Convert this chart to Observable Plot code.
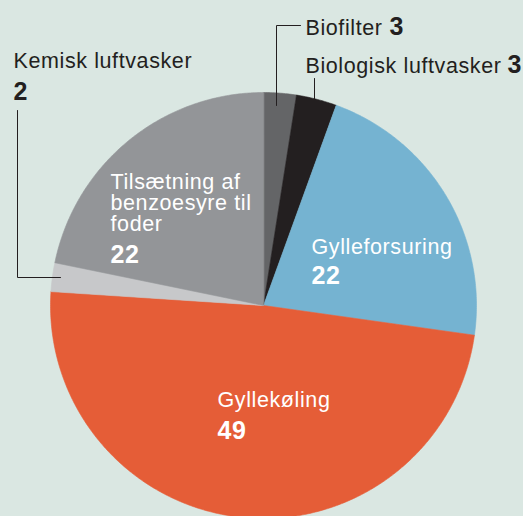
<!DOCTYPE html>
<html>
<head>
<meta charset="utf-8">
<script src="https://cdn.jsdelivr.net/npm/d3@7"></script>
<script src="https://cdn.jsdelivr.net/npm/@observablehq/plot@0.6"></script>
<style>
  html, body { margin: 0; padding: 0; background: #dae7e2; overflow: hidden; }
  #chart svg { display: block; font-family: "Liberation Sans", Arial, sans-serif; letter-spacing: 0.6px; }
</style>
</head>
<body>
<div id="chart"></div>
<script>
// ---- data ----
const categories = ["Biofilter", "Biologisk luftvasker", "Gylleforsuring", "Gyllekøling", "Kemisk luftvasker", "Tilsætning af benzoesyre til foder"];
// slice sizes (labels show rounded values)
const values = [2.5, 3.1, 21.9, 49.3, 2.2, 22.0];
const valueLabels = ["3", "3", "22", "49", "2", "22"];
const colors = ["#646567", "#231f20", "#75b3d1", "#e55d37", "#c7c8ca", "#939598"];
const nameLines = [["Biofilter"], ["Biologisk luftvasker"], ["Gylleforsuring"], ["Gyllekøling"], ["Kemisk luftvasker"], ["Tilsætning af", "benzoesyre til", "foder"]];

// ---- layout ----
const W = 523, H = 516;
const cx = 263, cy = 305, R = 213;
const lineStep = 21;
// label anchors: baseline of last name line, baseline of value; inside = white text
const labelLayout = [
  {name: [305, 34], value: [389, 34], inside: false},
  {name: [305, 72], value: [507, 72], inside: false},
  {name: [311, 253], value: [311, 283], inside: true},
  {name: [217, 406], value: [217, 438], inside: true},
  {name: [13, 67], value: [13, 99], inside: false},
  {name: [110, 230], value: [110, 262], inside: true}
];
const leaders = [
  {k: 0, pts: [[300, 25], [276, 25], [276, 105]]},
  {k: 1, pts: [[314, 78], [314, 99]]},
  {k: 4, pts: [[17, 110], [17, 277], [60, 277]]}
];

// ---- slices ----
const arcs = d3.pie().sort(null).value(d => d)(values);
const slicePts = [];
arcs.forEach((a, i) => {
  const key = categories[i];
  slicePts.push({key, x: cx, y: cy});
  const n = Math.max(4, Math.ceil((a.endAngle - a.startAngle) / (Math.PI / 360)));
  for (let j = 0; j <= n; j++) {
    const t = a.startAngle + (a.endAngle - a.startAngle) * j / n;
    slicePts.push({key, x: cx + R * Math.sin(t), y: cy - R * Math.cos(t)});
  }
});

const nameData = categories.flatMap((c, i) => {
  const L = nameLines[i], lay = labelLayout[i];
  return L.map((t, j) => ({text: t, x: lay.name[0], y: lay.name[1] - (L.length - 1 - j) * lineStep, inside: lay.inside}));
});
const valueData = categories.map((c, i) => ({text: valueLabels[i], x: labelLayout[i].value[0], y: labelLayout[i].value[1], inside: labelLayout[i].inside}));
const leaderPts = leaders.flatMap(l => l.pts.map(p => ({k: l.k, x: p[0], y: p[1]})));

const plot = Plot.plot({
  width: W,
  height: H,
  margin: 0,
  style: {background: "#dae7e2", overflow: "visible"},
  x: {domain: [0, W], range: [0, W], axis: null},
  y: {domain: [0, H], range: [0, H], axis: null},
  color: {type: "ordinal", domain: categories, range: colors},
  marks: [
    Plot.line(slicePts, {x: "x", y: "y", z: "key", fill: "key", stroke: "key", strokeWidth: 0.6, curve: "linear-closed"}),
    Plot.line(leaderPts, {x: "x", y: "y", z: "k", stroke: "#231f20", strokeWidth: 1}),
    Plot.text(nameData, {x: "x", y: "y", text: "text", textAnchor: "start", lineAnchor: "bottom",
      fontSize: 21.5, fill: d => d.inside ? "white" : "#231f20"}),
    Plot.text(valueData, {x: "x", y: "y", text: "text", textAnchor: "start", lineAnchor: "bottom",
      fontSize: 25, fontWeight: "bold", fill: d => d.inside ? "white" : "#231f20"})
  ]
});
document.getElementById("chart").appendChild(plot);
</script>
</body>
</html>
